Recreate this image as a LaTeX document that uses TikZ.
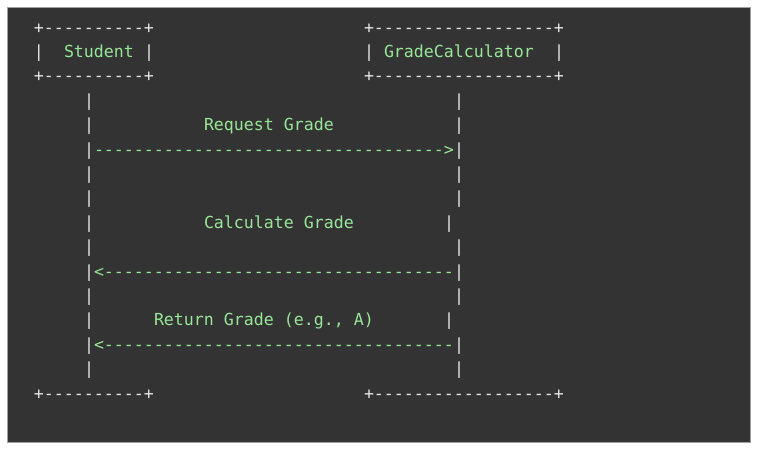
\documentclass[tikz,border=0pt]{standalone}
\usepackage{fontspec}
\newfontfamily\asciifont{DejaVu Sans Mono}[Ligatures=TeXOff]
\definecolor{bgc}{HTML}{333333}
\definecolor{framec}{HTML}{A0A0A0}
\definecolor{wht}{HTML}{E6E6E6}
\definecolor{grn}{HTML}{98E698}
\tikzset{
  asc/.style={anchor=base west, inner sep=0pt, outer sep=0pt,
    font=\asciifont\fontsize{16.6}{20}\selectfont, text=wht},
  grn/.style={asc, text=grn}
}
\begin{document}
\begin{tikzpicture}[x=1pt,y=-1pt]
\useasboundingbox (0,0) rectangle (764,450);
\fill[white] (0,0) rectangle (764,450);
\draw[framec, fill=bgc, line width=1pt] (7.5,7.5) rectangle (750.5,442.5);
\begin{scope}[shift={(34pt,-33pt)}, x=10pt, y=-24.4pt]
% header boxes
\node[asc] (topA) at (0,0) {+----------+};
\node[asc] (topB) at (33,0) {+------------------+};
\node[asc] (sbarL) at (0,1) {|};
\node[grn] (student) at (3,1) {Student};
\node[asc] (sbarR) at (11,1) {|};
\node[asc] (gbarL) at (33,1) {|};
\node[grn] (gradecalc) at (35,1) {GradeCalculator};
\node[asc] (gbarR) at (52,1) {|};
\node[asc] (midA) at (0,2) {+----------+};
\node[asc] (midB) at (33,2) {+------------------+};
% left lifeline
\foreach \r in {3,...,14} {\node[asc] (ll\r) at (5,\r) {|};}
% right lifeline
\foreach \r in {3,4,5,6,7,9,10,11,13,14} {\node[asc] (rl\r) at (42,\r) {|};}
\node[asc] (rl8) at (41,8) {|};
\node[asc] (rl12) at (41,12) {|};
% messages
\node[grn] (req) at (17,4) {Request Grade};
\node[grn] (reqarrow) at (6,5) {----------------------------------->};
\node[grn] (calc) at (17,8) {Calculate Grade};
\node[grn] (calcarrow) at (6,10) {<-----------------------------------};
\node[grn] (ret) at (12,12) {Return Grade (e.g., A)};
\node[grn] (retarrow) at (6,13) {<-----------------------------------};
% footer
\node[asc] (botA) at (0,15) {+----------+};
\node[asc] (botB) at (33,15) {+------------------+};
\end{scope}
\end{tikzpicture}
\end{document}
